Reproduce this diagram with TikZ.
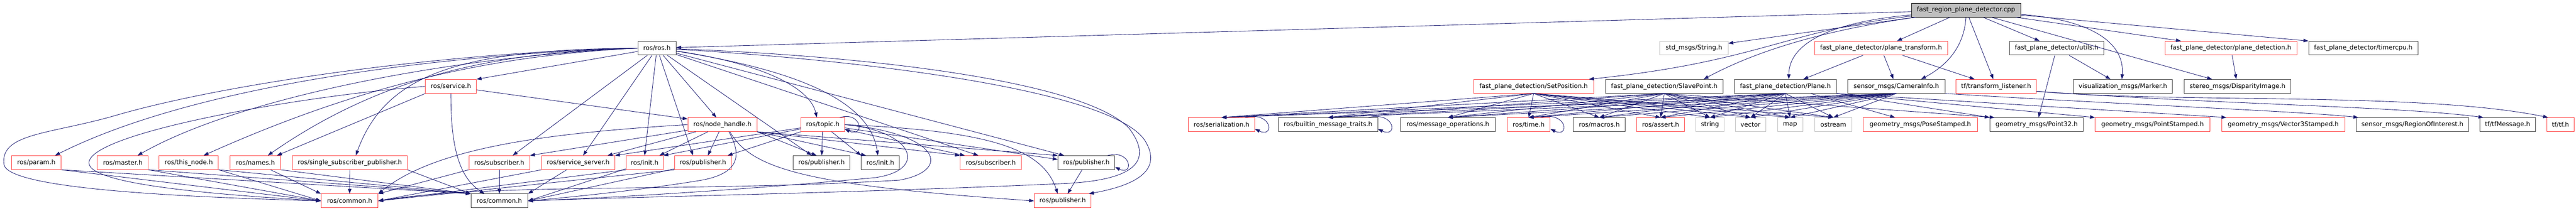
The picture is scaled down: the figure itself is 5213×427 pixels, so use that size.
\documentclass[tikz,border=0pt]{standalone}
\usepackage{fontspec}
\setmainfont{DejaVu Sans}
\usetikzlibrary{arrows.meta}
\definecolor{edgeblue}{RGB}{25,25,112}
\definecolor{boxred}{RGB}{255,64,64}
\definecolor{boxgrey}{RGB}{64,64,64}
\definecolor{boxlight}{RGB}{191,191,191}
\newcommand\boxfont{\fontsize{12.75pt}{15pt}\selectfont}
\tikzset{
  plainbox/.style={draw=boxgrey, line width=1pt, minimum height=28pt, inner sep=0pt, font=\boxfont},
  redbox/.style={plainbox, draw=boxred},
  sysbox/.style={plainbox, draw=boxlight},
  rootbox/.style={plainbox, draw=black, fill=boxlight},
  dep/.style={draw=edgeblue, line width=0.9pt, -{Triangle[length=10pt,width=7pt]}}
}

\begin{document}
\begin{tikzpicture}[x=1pt,y=-1pt]
\useasboundingbox (0,0) rectangle (5213,427);

\node[rootbox, minimum width=221pt] (cpp) at (3978.5,20.5) {fast\_region\_plane\_detector.cpp};

\node[plainbox, minimum width=77pt] (ros) at (1329.5,97.5) {ros/ros.h};
\node[sysbox, minimum width=138pt] (stdstr) at (3428,97.5) {std\_msgs/String.h};
\node[redbox, minimum width=269pt] (ptrans) at (3806.5,97.5) {fast\_plane\_detector/plane\_transform.h};
\node[plainbox, minimum width=190pt] (utils) at (4162,97.5) {fast\_plane\_detector/utils.h};
\node[redbox, minimum width=267pt] (pdet) at (4514.5,97.5) {fast\_plane\_detector/plane\_detection.h};
\node[plainbox, minimum width=221pt] (timer) at (4782.5,97.5) {fast\_plane\_detector/timercpu.h};

\node[redbox, minimum width=103pt] (service) at (912.5,175) {ros/service.h};
\node[redbox, minimum width=243pt] (setpos) at (3103.5,175) {fast\_plane\_detection/SetPosition.h};
\node[plainbox, minimum width=238pt] (slave) at (3368,175) {fast\_plane\_detection/SlavePoint.h};
\node[plainbox, minimum width=206pt] (plane) at (3613,175) {fast\_plane\_detection/Plane.h};
\node[plainbox, minimum width=197pt] (caminfo) at (3837.5,175) {sensor\_msgs/CameraInfo.h};
\node[redbox, minimum width=163pt] (tflis) at (4039.5,175) {tf/transform\_listener.h};
\node[plainbox, minimum width=200pt] (marker) at (4296,175) {visualization\_msgs/Marker.h};
\node[plainbox, minimum width=216pt] (disp) at (4528,175) {stereo\_msgs/DisparityImage.h};

\node[redbox, minimum width=140pt] (nh) at (1462,252.5) {ros/node\_handle.h};
\node[redbox, minimum width=88pt] (topic) at (1665,252.5) {ros/topic.h};
\node[redbox, minimum width=134pt] (ser) at (2472,252.5) {ros/serialization.h};
\node[plainbox, minimum width=201pt] (bmt) at (2687.5,252.5) {ros/builtin\_message\_traits.h};
\node[plainbox, minimum width=192pt] (mops) at (2930,252.5) {ros/message\_operations.h};
\node[redbox, minimum width=87pt] (time) at (3093.5,252.5) {ros/time.h};
\node[plainbox, minimum width=105pt] (macros) at (3236.5,252.5) {ros/macros.h};
\node[redbox, minimum width=97pt] (assert) at (3360.5,252.5) {ros/assert.h};
\node[sysbox, minimum width=57pt] (string) at (3460.5,252.5) {string};
\node[sysbox, minimum width=61pt] (vector) at (3542.5,252.5) {vector};
\node[sysbox, minimum width=51pt] (map) at (3622.5,252.5) {map};
\node[sysbox, minimum width=76pt] (ostream) at (3710,252.5) {ostream};
\node[redbox, minimum width=232pt] (pose) at (3886,252.5) {geometry\_msgs/PoseStamped.h};
\node[plainbox, minimum width=189pt] (p32) at (4121.5,252.5) {geometry\_msgs/Point32.h};
\node[redbox, minimum width=232pt] (pst) at (4356,252.5) {geometry\_msgs/PointStamped.h};
\node[redbox, minimum width=249pt] (v3s) at (4620.5,252.5) {geometry\_msgs/Vector3Stamped.h};
\node[plainbox, minimum width=228pt] (roi) at (4882,252.5) {sensor\_msgs/RegionOfInterest.h};
\node[plainbox, minimum width=113pt] (tfmsg) at (5074.5,252.5) {tf/tfMessage.h};
\node[redbox, minimum width=55pt] (tf) at (5181.5,252.5) {tf/tf.h};

\node[redbox, minimum width=101pt] (param) at (73.5,329.5) {ros/param.h};
\node[redbox, minimum width=103pt] (master) at (248.5,329.5) {ros/master.h};
\node[redbox, minimum width=120pt] (thisnode) at (382,329.5) {ros/this\_node.h};
\node[redbox, minimum width=102pt] (names) at (517,329.5) {ros/names.h};
\node[redbox, minimum width=232pt] (ssp) at (708,329.5) {ros/single\_subscriber\_publisher.h};
\node[redbox, minimum width=123pt] (subA) at (1010.5,329.5) {ros/subscriber.h};
\node[redbox, minimum width=148pt] (srvsrv) at (1170,329.5) {ros/service\_server.h};
\node[redbox, minimum width=75pt] (initA) at (1304.5,329.5) {ros/init.h};
\node[redbox, minimum width=115pt] (pubA) at (1422.5,329.5) {ros/publisher.h};
\node[plainbox, minimum width=115pt] (pubB) at (1662.5,329.5) {ros/publisher.h};
\node[plainbox, minimum width=77pt] (initB) at (1781.5,329.5) {ros/init.h};
\node[redbox, minimum width=124pt] (subB) at (2005,329.5) {ros/subscriber.h};
\node[plainbox, minimum width=115pt] (pubC) at (2198.5,329.5) {ros/publisher.h};

\node[redbox, minimum width=115pt] (comA) at (707.5,407) {ros/common.h};
\node[plainbox, minimum width=115pt] (comB) at (1010.5,407) {ros/common.h};
\node[redbox, minimum width=115pt] (pubD) at (2150.5,407) {ros/publisher.h};

% the source file
\draw[dep] (cpp) -- (ros);
\draw[dep] (cpp) -- (stdstr);
\draw[dep] (cpp) .. controls (3620,60) and (3560,125) .. ([xshift=-10pt]setpos.north east);
\draw[dep] (cpp) .. controls (3700,60) and (3560,100) .. ([xshift=-40pt]slave.north east);
\draw[dep] (cpp) .. controls (3700,45) and (3620,90) .. ([xshift=7pt]plane.north);
\draw[dep] (cpp) -- (ptrans);
\draw[dep] (cpp.south) .. controls (3975,90) and (3945,130) .. ([xshift=50pt]caminfo.north);
\draw[dep] (cpp) -- (tflis);
\draw[dep] (cpp) -- (utils);
\draw[dep] (cpp) .. controls (4230,40) and (4300,85) .. ([xshift=-2pt]marker.north);
\draw[dep] (cpp) -- (pdet);
\draw[dep] (cpp) -- (timer.north west);
\draw[dep] (cpp) -- (disp);

\draw[dep] (ptrans) -- (plane);
\draw[dep] (ptrans) -- (caminfo);
\draw[dep] (ptrans) -- (tflis);
\draw[dep] (utils) -- (p32);
\draw[dep] (utils) -- (marker);
\draw[dep] (pdet) -- (disp);

\draw[dep] ([yshift=-10pt]tflis.east) .. controls (4400,210) and (4900,185) .. ([xshift=3pt]tf.north west);
\draw[dep] ([yshift=-10pt]tflis.east) .. controls (4500,212) and (4850,215) .. ([xshift=8pt]tfmsg.north west);
\draw[dep] (caminfo.south east) .. controls (4300,212) and (4650,225) .. ([xshift=5pt]roi.north west);
\draw[dep] (plane) -- (pose);
\draw[dep] (plane.south east) -- (p32.north west);
\draw[dep] (plane.south east) -- (pst.north west);
\draw[dep] (plane.south east) -- ([xshift=10pt]v3s.north west);
\draw[dep] (slave.south) -- ([xshift=10pt]p32.north west);

% generated message headers
\foreach \msg in {setpos,slave,plane,caminfo}
  \foreach \dst in {ser,bmt,mops,time,macros,assert,string,vector,map,ostream}
    \draw[dep] (\msg.south) -- (\dst.north);

\draw[dep] ([xshift=-20pt]ser.north east) .. controls (2575,225) and (2580,280) .. ([yshift=-9pt]ser.east);
\draw[dep] ([xshift=-20pt]bmt.north east) .. controls (2824,225) and (2829,280) .. ([yshift=-9pt]bmt.east);
\draw[dep] ([xshift=-20pt]time.north east) .. controls (3172,225) and (3177,280) .. ([yshift=-9pt]time.east);
\draw[dep] ([xshift=-10pt]topic.north east) .. controls (1745,225) and (1750,280) .. ([yshift=-9pt]topic.east);
\draw[dep] ([xshift=-15pt]pubC.north east) .. controls (2290,302) and (2295,357) .. ([yshift=-9pt]pubC.east);

% ros/ros.h
\draw[dep] (ros.west) .. controls (900,110) and (400,170) .. ([xshift=38pt]param.north);
\draw[dep] (ros.west) .. controls (900,115) and (480,200) .. ([xshift=30pt]master.north);
\draw[dep] (ros.west) .. controls (1050,110) and (780,150) .. ([xshift=30pt]thisnode.north);
\draw[dep] (ros.west) .. controls (1050,105) and (800,135) .. ([xshift=25pt]names.north);
\draw[dep] (ros.west) .. controls (930,100) and (780,150) .. ([xshift=12pt]ssp.north);
\draw[dep] (ros) -- (service.north east);
\draw[dep] (ros) -- ([xshift=27pt]subA.north);
\draw[dep] (ros) -- ([xshift=10pt]srvsrv.north);
\draw[dep] (ros) -- (initA.north);
\draw[dep] (ros) -- ([xshift=-20pt]pubA.north);
\draw[dep] (ros) -- (nh);
\draw[dep] (ros) -- ([xshift=-20pt]pubB.north);
\draw[dep] (ros) .. controls (1550,130) and (1640,180) .. ([xshift=-12pt]topic.north);
\draw[dep] (ros) .. controls (1600,140) and (1760,200) .. ([xshift=-5pt]initB.north);
\draw[dep] (ros) -- ([xshift=-25pt]subB.north);
\draw[dep] (ros) -- ([xshift=-45pt]pubC.north);
\draw[dep] (ros) .. controls (1800,125) and (2270,190) .. (2320,290) .. controls (2350,345) and (2300,375) .. ([xshift=-5pt]pubD.north east);
\draw[dep] (ros) .. controls (1800,115) and (2200,170) .. (2285,260) .. controls (2330,320) and (2310,365) .. (2150,372) .. controls (1700,392) and (1300,398) .. (comB.east);
\draw[dep] (ros.west) .. controls (900,105) and (450,170) .. (230,235) .. controls (100,272) and (0,270) .. (8,333) .. controls (15,385) and (400,400) .. (comA.west);

% ros/service.h
\draw[dep] (service.south west) -- ([xshift=-8pt]names.north east);
\draw[dep] (service) -- ([yshift=-3pt]nh.north west);
\draw[dep] (service) .. controls (912,300) and (930,360) .. ([xshift=-30pt]comB.north);
\draw[dep] (service.west) .. controls (600,195) and (180,270) .. (180,330) .. controls (180,375) and (450,395) .. (comA.west);

% ros/node_handle.h
\draw[dep] (nh) -- (subA.north east);
\draw[dep] (nh) -- ([xshift=-15pt]srvsrv.north east);
\draw[dep] (nh) -- ([xshift=-8pt]initA.north east);
\draw[dep] (nh) -- ([xshift=10pt]pubA.north);
\draw[dep] (nh.south east) -- ([xshift=-10pt]pubB.north);
\draw[dep] (nh.south east) -- ([xshift=10pt]initB.north west);
\draw[dep] (nh.south east) -- (subB.north west);
\draw[dep] (nh.south east) -- (pubC.north west);
\draw[dep] (nh.west) .. controls (1100,270) and (880,300) .. (comA.north east);
\draw[dep] ([xshift=13pt]nh.south) .. controls (1505,320) and (1490,352) .. (1420,365) .. controls (1300,385) and (1150,400) .. (comB.east);
\draw[dep] ([xshift=15pt]nh.south) .. controls (1520,340) and (1620,375) .. (pubD.west);

% ros/topic.h
\draw[dep] (topic) -- (srvsrv.north east);
\draw[dep] (topic) -- (initA.north east);
\draw[dep] (topic) -- ([xshift=-8pt]pubA.north east);
\draw[dep] (topic) -- (pubB);
\draw[dep] (topic) -- (initB.north west);
\draw[dep] (topic) -- ([xshift=10pt]subB.north west);
\draw[dep] (topic) -- ([yshift=-8pt]pubC.north west);
\draw[dep] (topic.east) .. controls (1850,265) and (1880,345) .. (1770,360) .. controls (1500,385) and (1250,400) .. (comB.east);
\draw[dep] (topic.east) .. controls (1900,270) and (1930,345) .. (1820,365) .. controls (1400,390) and (1000,370) .. (comA.east);
\draw[dep] (topic.east) .. controls (2000,265) and (2110,300) .. ([xshift=-10pt]pubD.north);

% down to ros/common.h
\draw[dep] (param.south east) -- (comA.west);
\draw[dep] (param.south east) -- (comB.north west);
\draw[dep] (master.south east) -- (comA.west);
\draw[dep] (master.south east) -- (comB.north west);
\draw[dep] (thisnode.south east) -- (comA.west);
\draw[dep] (thisnode.south east) -- (comB.north west);
\draw[dep] (names) -- (comA.north west);
\draw[dep] (names.south east) -- (comB.north west);
\draw[dep] (ssp) -- (comA);
\draw[dep] (ssp.south east) -- (comB.north west);
\draw[dep] (subA.south west) -- (comA.north east);
\draw[dep] (subA) -- (comB);
\draw[dep] (srvsrv.south west) -- (comA.east);
\draw[dep] (srvsrv) -- (comB.north east);
\draw[dep] (initA.south west) -- (comA.east);
\draw[dep] (initA) -- (comB.east);
\draw[dep] (pubA.south west) -- (comA.east);
\draw[dep] (pubA) -- (comB.east);
\draw[dep] (pubC) -- ([xshift=10pt]pubD.north);

\end{tikzpicture}
\end{document}
